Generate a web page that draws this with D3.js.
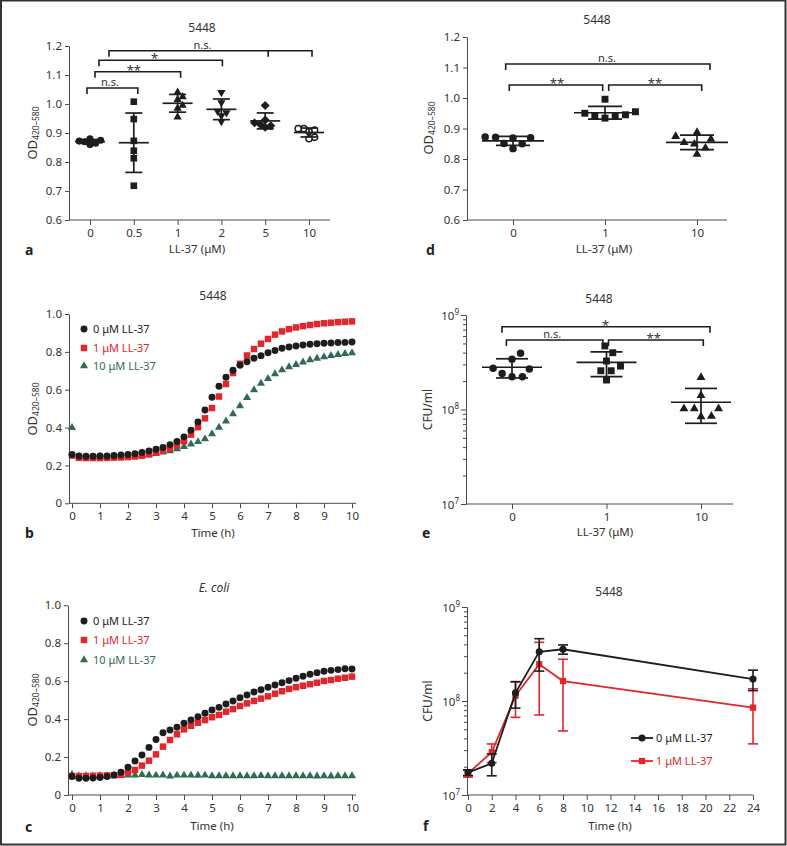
<!DOCTYPE html>
<html><head><meta charset="utf-8">
<script src="https://cdn.jsdelivr.net/npm/d3@7"></script>
<style>
body{margin:0;background:#fff;}
svg text{font-family:"Noto Sans",sans-serif;}
</style></head><body>
<script>
// ================= DATA =================
// Panel a : OD420-580 by LL-37 concentration (µM)
const aCategories = ["0","0.5","1","2","5","10"];
const aValues0   = [0.875, 0.880, 0.870, 0.865, 0.860, 0.872];
const aValues05  = [1.008, 0.948, 0.873, 0.839, 0.813, 0.718];
const aValues1   = [1.040, 1.025, 1.015, 0.995, 0.985, 0.955];
const aValues2   = [1.040, 1.005, 0.975, 0.970, 0.960, 0.940];
const aValues5   = [0.995, 0.945, 0.935, 0.930, 0.925, 0.920];
const aValues10  = [0.915, 0.915, 0.910, 0.905, 0.885, 0.880];
const aShapes = ["circle","square","triangle","triangleDown","diamond","circleOpen"];
const aBrackets = [
  {from:"0", to:"0.5", label:"n.s."},
  {from:"0", to:"1",   label:"**"},
  {from:"0", to:"2",   label:"*"},
  {from:"0", to:"10",  via:"5", label:"n.s."}
];
const aYTicks = [0.6,0.7,0.8,0.9,1.0,1.1,1.2];

// Panel d
const dCategories = ["0","1","10"];
const dValues0  = [0.872, 0.870, 0.871, 0.869, 0.850, 0.851, 0.834];
const dValues1  = [0.996, 0.950, 0.941, 0.934, 0.941, 0.945, 0.955];
const dValues10 = [0.887, 0.874, 0.865, 0.854, 0.849, 0.836, 0.816];
const dShapes = ["circle","square","triangle"];
const dBrackets = [
  {from:"0", to:"1",  label:"**"},
  {from:"1", to:"10", label:"**"},
  {from:"0", to:"10", label:"n.s."}
];

// Panel e : CFU/ml
const eCategories = ["0","1","10"];
const eValues0  = [3.93e8, 3.40e8, 2.73e8, 2.68e8, 2.41e8, 2.22e8, 2.22e8];
const eValues1  = [4.70e8, 3.99e8, 3.26e8, 2.88e8, 2.57e8, 2.57e8, 2.05e8];
const eValues10 = [2.19e8, 1.41e8, 1.02e8, 1.02e8, 1.02e8, 0.84e8, 0.85e8];
const eShapes = ["circle","square","triangle"];
const eBrackets = [
  {from:"0", to:"1",  label:"n.s."},
  {from:"1", to:"10", label:"**"},
  {from:"0", to:"10", label:"*"}
];

// Panels b, c : growth curves
const timeGrid = [0,0.25,0.5,0.75,1,1.25,1.5,1.75,2,2.25,2.5,2.75,3,3.25,3.5,3.75,4,4.25,4.5,4.75,5,
                  5.25,5.5,5.75,6,6.25,6.5,6.75,7,7.25,7.5,7.75,8,8.25,8.5,8.75,9,9.25,9.5,9.75,10];
const bBlack = [0.258,0.250,0.249,0.249,0.250,0.250,0.252,0.255,0.258,0.262,0.268,0.276,0.286,0.295,0.310,0.326,0.351,0.386,0.429,0.493,0.560,0.618,0.666,0.703,0.729,0.748,0.766,0.780,0.795,0.807,0.819,0.826,0.831,0.836,0.840,0.843,0.845,0.847,0.849,0.850,0.852];
const bRed   = [0.252,0.240,0.239,0.239,0.239,0.240,0.241,0.242,0.244,0.247,0.251,0.258,0.267,0.278,0.290,0.306,0.328,0.363,0.402,0.449,0.503,0.564,0.630,0.688,0.737,0.781,0.815,0.843,0.868,0.891,0.908,0.920,0.929,0.936,0.942,0.947,0.951,0.954,0.957,0.959,0.961];
const bGreen = [0.400,0.245,0.244,0.244,0.245,0.245,0.246,0.247,0.249,0.251,0.254,0.258,0.263,0.270,0.277,0.287,0.299,0.312,0.325,0.340,0.366,0.401,0.434,0.472,0.515,0.558,0.599,0.633,0.658,0.684,0.704,0.721,0.732,0.746,0.757,0.765,0.773,0.780,0.785,0.790,0.794];
const cBlack = [0.097,0.088,0.088,0.090,0.092,0.097,0.105,0.120,0.146,0.179,0.211,0.251,0.293,0.328,0.343,0.357,0.378,0.395,0.413,0.431,0.448,0.462,0.480,0.496,0.513,0.527,0.543,0.555,0.568,0.580,0.592,0.603,0.615,0.626,0.636,0.645,0.652,0.657,0.661,0.666,0.664];
const cRed   = [0.100,0.100,0.100,0.101,0.102,0.103,0.104,0.106,0.118,0.132,0.155,0.181,0.214,0.255,0.290,0.320,0.346,0.365,0.381,0.395,0.410,0.422,0.439,0.453,0.469,0.483,0.496,0.508,0.520,0.534,0.547,0.559,0.568,0.576,0.584,0.592,0.601,0.606,0.613,0.618,0.624];
const cGreen = [0.108,0.100,0.101,0.100,0.102,0.101,0.102,0.103,0.104,0.105,0.107,0.105,0.104,0.105,0.099,0.104,0.104,0.104,0.103,0.104,0.101,0.101,0.101,0.101,0.101,0.101,0.101,0.102,0.101,0.101,0.101,0.101,0.101,0.101,0.101,0.099,0.101,0.099,0.101,0.101,0.101];
const curveLabels = ["0 μM LL-37","1 μM LL-37","10 μM LL-37"];
const odTicks = [0,0.2,0.4,0.6,0.8,1.0];
const hourTicks = [0,1,2,3,4,5,6,7,8,9,10];

// Panel f : CFU/ml over time
const fTimes = [0,2,4,6,8,24];
const f0Mean = [1.73e7, 2.17e7, 1.22e8, 3.34e8, 3.55e8, 1.71e8];
const f0SD   = [0.12e7, 0.57e7, 0.38e8, 1.26e8, 0.40e8, 0.42e8];
const f1Mean = [1.70e7, 2.85e7, 1.14e8, 2.46e8, 1.63e8, 0.85e8];
const f1SD   = [0.15e7, 0.64e7, 0.47e8, 1.75e8, 1.15e8, 0.50e8];
const fLabels = ["0 μM LL-37","1 μM LL-37"];
const fXTicks = [0,2,4,6,8,10,12,14,16,18,20,22,24];
const logMajor = [1e7,1e8,1e9];

// ================= STYLE / LAYOUT =================
const INK = "#1d1d1d", RED = "#e3262c", GREEN = "#2f6c50", AX = "#4a4a4a", TXT = "#333";
const svg = d3.select("body").append("svg").attr("width",787).attr("height",846);

svg.append("rect").attr("x",1).attr("y",0.5).attr("width",784.5).attr("height",844)
  .attr("fill","none").attr("stroke","#333").attr("stroke-width",2);

function txt(x,y,s,opt={}){
  return svg.append("text").attr("x",x).attr("y",y).text(s)
    .attr("text-anchor",opt.anchor||"middle").attr("fill",opt.fill||TXT)
    .style("font-size",(opt.size||12)+"px")
    .style("font-weight",opt.weight||"normal").style("font-style",opt.style||"normal");
}
function yLabel(x,y,main,sub){
  const t = svg.append("text").attr("transform",`translate(${x},${y}) rotate(-90)`)
    .attr("text-anchor","middle").attr("fill",TXT).style("font-size","13px");
  t.append("tspan").text(main);
  if(sub) t.append("tspan").attr("dy",2).style("font-size","8.5px").text(sub);
}
function styleAxis(g){
  g.select(".domain").attr("stroke",AX);
  g.selectAll(".tick line").attr("stroke",AX);
  g.selectAll(".tick text").attr("fill",TXT).style("font-size","11.5px");
}
function yAxisLinear(x, scale, ticks, fmt){
  const g = svg.append("g").attr("transform",`translate(${x},0)`)
    .call(d3.axisLeft(scale).tickValues(ticks).tickFormat(fmt).tickSize(4).tickSizeOuter(0).tickPadding(3));
  styleAxis(g);
}
function yAxisLog(x, scale){
  const [lo,hi] = scale.domain();
  const minors = [];
  for(let e=Math.log10(lo); e<Math.log10(hi); e++) for(let k=2;k<=9;k++) minors.push(k*Math.pow(10,e));
  const gm = svg.append("g").attr("transform",`translate(${x},0)`)
    .call(d3.axisLeft(scale).tickValues(minors).tickFormat("").tickSize(3).tickSizeOuter(0));
  styleAxis(gm);
  const g = svg.append("g").attr("transform",`translate(${x},0)`)
    .call(d3.axisLeft(scale).tickValues(logMajor).tickFormat("").tickSize(5).tickSizeOuter(0).tickPadding(3));
  styleAxis(g);
  g.selectAll(".tick text").each(function(d){
    const t = d3.select(this).attr("dy","0.38em").attr("x",-7);
    t.append("tspan").text("10");
    t.append("tspan").attr("dy",-5).style("font-size","8px").text(Math.round(Math.log10(d)));
  });
}
function xAxis(y, scale, x0, x1, ticks, fmt){
  svg.append("line").attr("x1",x0).attr("x2",x1).attr("y1",y).attr("y2",y).attr("stroke",AX);
  const ax = d3.axisBottom(scale).tickSize(5).tickSizeOuter(0).tickPadding(4);
  if(ticks) ax.tickValues(ticks);
  if(fmt) ax.tickFormat(fmt);
  const g = svg.append("g").attr("transform",`translate(0,${y})`).call(ax);
  g.select(".domain").remove();
  styleAxis(g);
}
const symType = {circle:d3.symbolCircle, circleOpen:d3.symbolCircle, square:d3.symbolSquare,
  triangle:d3.symbolTriangle, triangleDown:d3.symbolTriangle, diamond:d3.symbolSquare};
const symRot = {triangleDown:" rotate(180)", diamond:" rotate(45)"};
function symPath(shape,size){ return d3.symbol().type(symType[shape]).size(size)(); }

function beeswarm(values, y, diam){
  const pts = values.map(v=>({v, y:y(v), dx:0}));
  const order = pts.slice().sort((a,b)=>a.v-b.v);
  const placed = [];
  for(const p of order){
    const cands=[0];
    for(const q of placed){
      const dy=Math.abs(q.y-p.y);
      if(dy<diam){ const d=Math.sqrt(diam*diam-dy*dy); cands.push(q.dx+d, q.dx-d); }
    }
    cands.sort((a,b)=>Math.abs(a)-Math.abs(b));
    for(const c of cands){
      if(placed.every(q=>(q.dx-c)**2+(q.y-p.y)**2 >= diam*diam-0.01)){ p.dx=c; break; }
    }
    placed.push(p);
  }
  return pts;
}

function dotPanel(cats, groups, shapes, x, y, o){
  groups.forEach((vals,gi)=>{
    const cx = x(cats[gi]), shape = shapes[gi];
    const pts = beeswarm(vals, y, o.diam);
    svg.append("g").selectAll("path").data(pts).join("path")
      .attr("d", symPath(shape, o.size[shape]))
      .attr("transform", d=>`translate(${cx+d.dx},${d.y})`+(symRot[shape]||""))
      .attr("fill", shape==="circleOpen" ? "#fff" : INK)
      .attr("stroke", shape==="circleOpen" ? INK : "none").attr("stroke-width",1.4);
    const m = d3.mean(vals), s = d3.deviation(vals);
    const eg = svg.append("g").attr("stroke",INK).attr("stroke-width",1.7);
    eg.append("line").attr("x1",cx-o.meanHalf).attr("x2",cx+o.meanHalf).attr("y1",y(m)).attr("y2",y(m));
    eg.append("line").attr("x1",cx).attr("x2",cx).attr("y1",y(m+s)).attr("y2",y(m-s));
    [m+s,m-s].forEach(v=>eg.append("line").attr("x1",cx-o.capHalf).attr("x2",cx+o.capHalf).attr("y1",y(v)).attr("y2",y(v)));
  });
}
function brackets(list, x, lay){
  list.forEach((b,i)=>{
    const yb = lay.y[i], xl = x(b.from)+lay.dl[i], xr = x(b.to)+lay.dr[i];
    const pts = [[xl,yb+6],[xl,yb],[xr,yb],[xr,yb+6]];
    svg.append("path").attr("d", d3.line()(pts)).attr("fill","none").attr("stroke",INK).attr("stroke-width",1.6);
    if(b.via){ const xv = x(b.via)+lay.dr[i];
      svg.append("line").attr("x1",xv).attr("x2",xv).attr("y1",yb).attr("y2",yb+6).attr("stroke",INK).attr("stroke-width",1.6); }
    const tx = (x(b.from)+x(b.to))/2 + (lay.tdx ? lay.tdx[i] : 0);
    if(b.label.includes("*")) txt(tx, yb+3, b.label, {size:13});
    else txt(tx, yb-1.8, b.label, {size:11});
  });
}
function curvePanel(seriesList, x, y){
  seriesList.forEach(s=>{
    svg.append("g").selectAll("path").data(s.vals).join("path")
      .attr("d", symPath(s.shape, s.size))
      .attr("transform",(d,i)=>`translate(${x(timeGrid[i])},${y(d)})`)
      .attr("fill", s.color);
  });
}
function curveLegend(x, ys, items){
  items.forEach((it,i)=>{
    svg.append("path").attr("d",symPath(it.shape,it.size)).attr("transform",`translate(${x},${ys[i]})`).attr("fill",it.color);
    txt(x+9, ys[i]+4.2, it.label, {anchor:"start", fill:it.color, size:11});
  });
}

// ================= PANEL a =================
{
  const y = d3.scaleLinear().domain([0.6,1.2]).range([220,46]);
  const x = d3.scalePoint().domain(aCategories).range([90,309]);
  yAxisLinear(69, y, aYTicks, d3.format(".1f"));
  xAxis(220, x, 69, 330);
  dotPanel(aCategories, [aValues0,aValues05,aValues1,aValues2,aValues5,aValues10], aShapes, x, y,
    {diam:5.8, meanHalf:15, capHalf:8.5,
     size:{circle:40, square:44, triangle:30, triangleDown:30, diamond:40, circleOpen:30}});
  brackets(aBrackets, x, {y:[88,71.7,60.3,50.7], dl:[-3,5,9,19], dr:[4,3,1,3], tdx:[-2,0,-1,3]});
  txt(202,32,"5448");
  yLabel(37,133,"OD","420–580");
  txt(197,253,"LL-37 (μM)",{size:11.5});
  txt(25,255,"a",{anchor:"start",weight:"bold",size:14,fill:"#222"});
}
// ================= PANEL d =================
{
  const y = d3.scaleLinear().domain([0.6,1.2]).range([220,37]);
  const x = d3.scalePoint().domain(dCategories).range([513,697]);
  yAxisLinear(467, y, aYTicks, d3.format(".1f"));
  xAxis(220, x, 467, 727);
  dotPanel(dCategories, [dValues0,dValues1,dValues10], dShapes, x, y,
    {diam:10.4, meanHalf:31, capHalf:17, size:{circle:44, square:48, triangle:34}});
  brackets(dBrackets, x, {y:[85,85,64], dl:[-3.7,3.7,-7.3], dr:[-2.3,4.7,13], tdx:[-2,4,2]});
  txt(597,24,"5448");
  yLabel(433,128,"OD","420–580");
  txt(604,253,"LL-37 (μM)",{size:11.5});
  txt(426,255,"d",{anchor:"start",weight:"bold",size:14,fill:"#222"});
}
// ================= PANEL b =================
{
  const y = d3.scaleLinear().domain([0,1]).range([503.3,314]);
  const x = d3.scaleLinear().domain([0,10]).range([72,352]);
  yAxisLinear(69, y, odTicks, d=> d===0?"0":d3.format(".1f")(d));
  xAxis(503.3, x, 69, 356, hourTicks, d3.format("d"));
  curvePanel([
    {vals:bGreen, shape:"triangle", size:28, color:GREEN},
    {vals:bRed, shape:"square", size:42, color:RED},
    {vals:bBlack, shape:"circle", size:38, color:INK}], x, y);
  curveLegend(84,[329,348,366],[
    {shape:"circle",size:38,color:INK,label:curveLabels[0]},
    {shape:"square",size:42,color:RED,label:curveLabels[1]},
    {shape:"triangle",size:28,color:GREEN,label:curveLabels[2]}]);
  txt(213,300,"5448");
  yLabel(37,409,"OD","420–580");
  txt(213,537,"Time (h)",{size:11.5});
  txt(25,538,"b",{anchor:"start",weight:"bold",size:14,fill:"#222"});
}
// ================= PANEL e =================
{
  const y = d3.scaleLog().domain([1e7,1e9]).range([504,315]);
  const x = d3.scalePoint().domain(eCategories).range([512,701]);
  yAxisLog(466, y);
  xAxis(504, x, 466, 733);
  dotPanel(eCategories, [eValues0,eValues1,eValues10], eShapes, x, y,
    {diam:10.4, meanHalf:30, capHalf:16, size:{circle:44, square:48, triangle:34}});
  brackets(eBrackets, x, {y:[340,340,326.7], dl:[-5.6,2,-10], dr:[-3.6,2.3,9], tdx:[-7,0,-1]});
  txt(599,303,"5448");
  svg.append("text").attr("transform","translate(432,409.5) rotate(-90)").attr("text-anchor","middle")
    .attr("fill",TXT).style("font-size","12px").text("CFU/ml");
  txt(605,536,"LL-37 (μM)",{size:11.5});
  txt(422,538,"e",{anchor:"start",weight:"bold",size:14,fill:"#222"});
}
// ================= PANEL c =================
{
  const y = d3.scaleLinear().domain([0,1]).range([795,605.3]);
  const x = d3.scaleLinear().domain([0,10]).range([72,352]);
  yAxisLinear(68, y, odTicks, d=> d===0?"0":d3.format(".1f")(d));
  xAxis(795, x, 68, 356, hourTicks, d3.format("d"));
  curvePanel([
    {vals:cGreen, shape:"triangle", size:28, color:GREEN},
    {vals:cRed, shape:"square", size:42, color:RED},
    {vals:cBlack, shape:"circle", size:38, color:INK}], x, y);
  curveLegend(84,[621,640,660],[
    {shape:"circle",size:38,color:INK,label:curveLabels[0]},
    {shape:"square",size:42,color:RED,label:curveLabels[1]},
    {shape:"triangle",size:28,color:GREEN,label:curveLabels[2]}]);
  txt(214,592,"E. coli",{style:"italic"});
  yLabel(37,700,"OD","420–580");
  txt(212,830,"Time (h)",{size:11.5});
  txt(25,832,"c",{anchor:"start",weight:"bold",size:14,fill:"#222"});
}
// ================= PANEL f =================
{
  const y = d3.scaleLog().domain([1e7,1e9]).range([795,607]);
  const x = d3.scaleLinear().domain([0,24]).range([468,753]);
  yAxisLog(467, y);
  xAxis(795, x, 467, 753, fXTicks, d3.format("d"));
  const series = [
    {mean:f1Mean, sd:f1SD, color:RED, shape:"square", size:40},
    {mean:f0Mean, sd:f0SD, color:INK, shape:"circle", size:40}];
  const line = d3.line().x((d,i)=>x(fTimes[i])).y(d=>y(d));
  series.forEach(s=>{
    const g = svg.append("g");
    s.mean.forEach((m,i)=>{
      const cx = x(fTimes[i]), yt = y(m+s.sd[i]), yb = y(m-s.sd[i]);
      g.append("line").attr("x1",cx).attr("x2",cx).attr("y1",yt).attr("y2",yb).attr("stroke",s.color).attr("stroke-width",1.6);
      [yt,yb].forEach(yy=>g.append("line").attr("x1",cx-5).attr("x2",cx+5).attr("y1",yy).attr("y2",yy).attr("stroke",s.color).attr("stroke-width",1.6));
    });
    g.append("path").attr("d",line(s.mean)).attr("fill","none").attr("stroke",s.color).attr("stroke-width",1.8);
    g.selectAll("path.m").data(s.mean).join("path").attr("class","m")
      .attr("d",symPath(s.shape,s.size)).attr("transform",(d,i)=>`translate(${x(fTimes[i])},${y(d)})`).attr("fill",s.color);
  });
  [[738,INK,"circle",fLabels[0]],[761,RED,"square",fLabels[1]]].forEach(([yy,col,sh,lab])=>{
    svg.append("line").attr("x1",631).attr("x2",653).attr("y1",yy).attr("y2",yy).attr("stroke",col).attr("stroke-width",1.8);
    svg.append("path").attr("d",symPath(sh,40)).attr("transform",`translate(642,${yy})`).attr("fill",col);
    txt(656,yy+4.2,lab,{anchor:"start",fill:col,size:11});
  });
  txt(609,596,"5448");
  svg.append("text").attr("transform","translate(432,701) rotate(-90)").attr("text-anchor","middle")
    .attr("fill",TXT).style("font-size","12px").text("CFU/ml");
  txt(610,830,"Time (h)",{size:11.5});
  txt(423,831,"f",{anchor:"start",weight:"bold",size:14,fill:"#222"});
}
</script>
</body></html>
